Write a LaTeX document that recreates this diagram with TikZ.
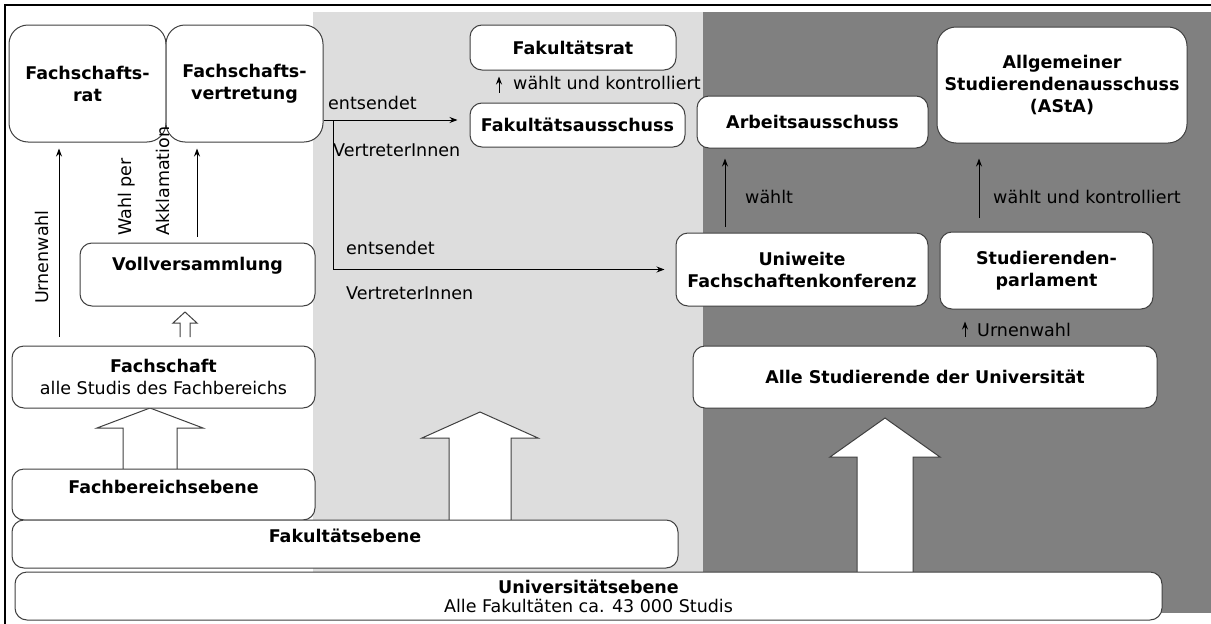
\documentclass[tikz,border=0pt]{standalone}
\usepackage{fontspec}
\setmainfont{DejaVu Sans}
\usetikzlibrary{arrows.meta, positioning, calc}
\definecolor{hellgrau}{HTML}{DDDDDD}
\definecolor{dunkelgrau}{HTML}{808080}
\newcommand{\hohlpfeil}[6]{\filldraw[hohl] ({#1-#6},#4) -- ({#1-#6},#3) -- ({#1-#5},#3) -- (#1,#2) -- ({#1+#5},#3) -- ({#1+#6},#3) -- ({#1+#6},#4);}

\begin{document}
\begin{tikzpicture}[
    x=1pt, y=-1pt,
    font=\fontsize{17.5}{22}\selectfont,
    kasten/.style={rectangle, draw=black!75, line width=1pt, fill=white, rounded corners=12pt, align=center, inner sep=2pt, font=\fontsize{17.5}{22}\selectfont\bfseries},
    gross/.style={kasten, rounded corners=19pt},
    pfeil/.style={-{Stealth[length=8pt, width=6pt]}, line width=1pt},
    hohl/.style={draw=black!75, line width=1pt, fill=white},
    marke/.style={inner sep=0pt, anchor=west}
]
    \useasboundingbox (0,0) rectangle (1211,624);
    \fill[hellgrau] (313,12) rectangle (703,572);
    \fill[dunkelgrau] (703,12) rectangle (1211,613);
    \draw[line width=2.5pt] (5,624) -- (5,5) -- (1211,5);

    \hohlpfeil{185}{312}{323}{337}{12}{5}
    \hohlpfeil{150}{408}{428}{470}{53}{27}
    \hohlpfeil{480}{412}{438}{520}{58}{31}
    \hohlpfeil{885}{418}{457}{572}{55}{28}

    \node[gross, minimum width=157, minimum height=117] (fsrat) at (87.5,83.5) {Fachschafts-\\rat};
    \node[gross, minimum width=157, minimum height=117] (fsvertretung) at (244.5,83.5) {Fachschafts-\\vertretung};
    \node[kasten, minimum width=235, minimum height=63] (vollvers) at (197.5,274.5) {Vollversammlung\\\mbox{}};
    \node[kasten, minimum width=303, minimum height=62] (fachschaft) at (163.5,377) {Fachschaft\\\mdseries alle Studis des Fachbereichs};
    \node[kasten, minimum width=303, minimum height=51] (fbebene) at (163.5,494.5) {Fachbereichsebene\\[-6pt]\mbox{}};
    \node[kasten, minimum width=666, minimum height=48] (fkebene) at (345,544) {Fakultätsebene\\[-6pt]\mbox{}};
    \node[kasten, minimum width=1147, minimum height=48] (uniebene) at (588.5,596) {Universitätsebene\\[-3pt]\mdseries Alle Fakultäten ca. 43 000 Studis};

    \node[kasten, minimum width=206, minimum height=45] (fakrat) at (573,47.5) {Fakultätsrat};
    \node[kasten, minimum width=215, minimum height=44] (fakaus) at (577.5,125) {Fakultätsausschuss};

    \node[kasten, minimum width=231, minimum height=52] (arbaus) at (812.5,122) {Arbeitsausschuss};
    \node[gross, minimum width=250, minimum height=116] (asta) at (1062,85) {Allgemeiner\\Studierendenausschuss\\(AStA)};
    \node[kasten, minimum width=252, minimum height=73] (ufk) at (802,269.5) {Uniweite\\Fachschaftenkonferenz};
    \node[kasten, minimum width=213, minimum height=77] (stupa) at (1046.5,270.5) {Studierenden-\\parlament};
    \node[kasten, minimum width=464, minimum height=62] (allestud) at (925,377) {Alle Studierende der Universität};

    \draw[pfeil, shorten <=9pt, shorten >=6pt] (59,0 |- fachschaft.north) -- (59,0 |- fsrat.south);
    \draw[pfeil, shorten <=6pt, shorten >=6pt] (197,0 |- vollvers.north) -- (197,0 |- fsvertretung.south);
    \draw[pfeil, shorten <=10pt, shorten >=6pt] (499,0 |- fakaus.north) -- (499,0 |- fakrat.south);
    \draw[pfeil, shorten <=6pt, shorten >=10pt] (725,0 |- ufk.north) -- (725,0 |- arbaus.south);
    \draw[pfeil, shorten <=14pt, shorten >=15pt] (979,0 |- stupa.north) -- (979,0 |- asta.south);
    \draw[pfeil, shorten <=9pt, shorten >=12pt] (965,0 |- allestud.north) -- (965,0 |- stupa.south);

    \coordinate (abzweig) at (333,120);
    \draw[pfeil, shorten >=12pt] (fsvertretung.east |- abzweig) -- (abzweig -| fakaus.west);
    \draw[pfeil, shorten >=11pt] (abzweig) |- (ufk.west);

    \node[marke] (ents1) at (328,103) {entsendet};
    \node[marke] (vertr1) at (333,150) {VertreterInnen};
    \node[marke] (ents2) at (346,248) {entsendet};
    \node[marke] (vertr2) at (346,293) {VertreterInnen};
    \node[marke] (wuk1) at (513,83) {wählt und kontrolliert};
    \node[marke] (waehlt) at (745,197) {wählt};
    \node[marke] (wuk2) at (993,197) {wählt und kontrolliert};
    \node[marke] (urne2) at (977,330) {Urnenwahl};
    \node[inner sep=0pt, rotate=90] (urne1) at (42,257) {Urnenwahl};
    \node[inner sep=0pt, rotate=90, anchor=west, align=left] (akkl) at (144,236) {Wahl per\\[16pt]Akklamation};
\end{tikzpicture}
\end{document}
